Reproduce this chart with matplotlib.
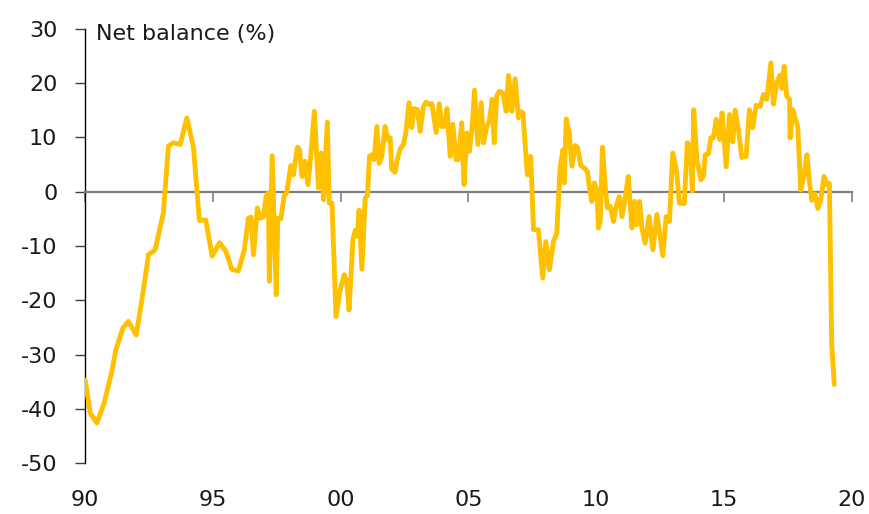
import matplotlib.pyplot as plt

# Net balance survey series, dates as decimal years
dates = [
    1990.00, 1990.20, 1990.46, 1990.74, 1991.04, 1991.21, 1991.48, 1991.69, 1992.00, 1992.22,
    1992.48, 1992.74, 1993.06, 1993.26, 1993.46, 1993.72, 1993.98, 1994.24, 1994.47, 1994.72,
    1994.97, 1995.26, 1995.51, 1995.74, 1996.00, 1996.23, 1996.39, 1996.49, 1996.59, 1996.74,
    1996.85, 1996.98, 1997.08, 1997.17, 1997.21, 1997.32, 1997.48, 1997.54, 1997.66, 1997.79,
    1997.89, 1998.05, 1998.15, 1998.31, 1998.39, 1998.49, 1998.60, 1998.72, 1998.83, 1998.97,
    1999.13, 1999.24, 1999.33, 1999.48, 1999.55, 1999.66, 1999.82, 1999.98, 2000.14, 2000.24,
    2000.33, 2000.48, 2000.57, 2000.66, 2000.72, 2000.83, 2000.96, 2001.05, 2001.13, 2001.22,
    2001.31, 2001.42, 2001.51, 2001.61, 2001.74, 2001.85, 2001.94, 2002.00, 2002.13, 2002.22,
    2002.33, 2002.46, 2002.55, 2002.68, 2002.78, 2002.88, 2003.01, 2003.11, 2003.24, 2003.35,
    2003.46, 2003.57, 2003.74, 2003.86, 2003.96, 2004.06, 2004.16, 2004.29, 2004.39, 2004.52,
    2004.61, 2004.74, 2004.83, 2004.94, 2005.04, 2005.15, 2005.24, 2005.37, 2005.50, 2005.59,
    2005.72, 2005.82, 2005.93, 2006.01, 2006.11, 2006.21, 2006.35, 2006.48, 2006.57, 2006.70,
    2006.83, 2006.96, 2007.03, 2007.13, 2007.31, 2007.44, 2007.55, 2007.74, 2007.91, 2008.03,
    2008.17, 2008.33, 2008.46, 2008.59, 2008.70, 2008.75, 2008.83, 2008.95, 2009.05, 2009.18,
    2009.27, 2009.40, 2009.53, 2009.66, 2009.73, 2009.83, 2009.93, 2010.03, 2010.09, 2010.16,
    2010.25, 2010.35, 2010.44, 2010.55, 2010.68, 2010.78, 2010.91, 2011.01, 2011.14, 2011.26,
    2011.40, 2011.50, 2011.59, 2011.70, 2011.79, 2011.92, 2012.07, 2012.22, 2012.38, 2012.61,
    2012.74, 2012.87, 2013.00, 2013.16, 2013.26, 2013.45, 2013.57, 2013.68, 2013.77, 2013.82,
    2013.94, 2014.10, 2014.20, 2014.27, 2014.40, 2014.49, 2014.59, 2014.70, 2014.83, 2014.93,
    2015.09, 2015.22, 2015.35, 2015.44, 2015.57, 2015.70, 2015.87, 2016.00, 2016.13, 2016.26,
    2016.42, 2016.55, 2016.68, 2016.84, 2016.94, 2017.07, 2017.20, 2017.27, 2017.36, 2017.46,
    2017.57, 2017.59, 2017.70, 2017.79, 2017.89, 2018.01, 2018.14, 2018.25, 2018.35, 2018.44,
    2018.57, 2018.68, 2018.79, 2018.92, 2019.03, 2019.13, 2019.22, 2019.32,
]
balance = [
    -34.7, -40.8, -42.6, -39.0, -33.2, -29.0, -25.1, -23.9, -26.4, -19.9,
    -11.6, -10.7, -3.9, 8.4, 9.0, 8.7, 13.6, 8.1, -5.3, -5.2,
    -11.9, -9.4, -11.0, -14.3, -14.6, -10.7, -4.9, -4.7, -11.6, -3.0,
    -4.9, -4.6, -0.9, -0.2, -16.5, 6.6, -19.0, -4.9, -5.0, -0.7,
    -0.2, 4.8, 3.1, 8.2, 7.7, 2.8, 5.6, 1.3, 6.5, 14.8,
    0.7, 7.1, -1.5, 12.8, -2.1, -2.1, -23.0, -18.1, -15.3, -16.5,
    -21.8, -8.9, -7.1, -8.2, -3.4, -14.3, -1.2, -0.7, 6.5, 6.8,
    5.9, 12.0, 5.2, 6.5, 12.0, 9.6, 9.9, 4.1, 3.6, 5.9,
    7.9, 8.7, 10.8, 16.4, 11.8, 15.3, 15.1, 11.1, 15.7, 16.5,
    16.1, 16.2, 10.9, 16.2, 12.0, 12.0, 15.3, 6.5, 12.4, 5.9,
    5.9, 12.7, 1.3, 10.8, 7.4, 12.0, 18.7, 8.7, 16.4, 9.0,
    12.0, 13.0, 17.0, 9.0, 17.6, 18.5, 18.2, 14.8, 21.4, 14.8,
    20.8, 13.6, 14.8, 14.5, 3.1, 6.5, -7.0, -7.0, -15.9, -9.2,
    -14.4, -9.2, -7.6, 4.4, 7.7, 1.6, 13.4, 10.8, 4.7, 8.5,
    8.2, 4.8, 4.4, 3.7, 1.0, -1.8, 1.6, 0.1, -6.7, -5.2,
    8.2, 1.3, -3.0, -2.7, -5.5, -2.7, -0.9, -4.6, -0.9, 2.8,
    -6.7, -1.8, -6.1, -1.8, -6.7, -9.5, -4.6, -10.7, -4.2, -11.8,
    -4.6, -5.5, 7.1, 3.4, -2.1, -2.2, 9.0, 8.4, 0.1, 15.1,
    6.0, 2.2, 2.8, 6.8, 7.0, 9.9, 9.9, 13.3, 9.6, 14.5,
    4.6, 14.2, 9.2, 15.0, 11.4, 6.3, 6.5, 15.1, 11.8, 15.9,
    15.7, 17.9, 17.0, 23.7, 16.1, 20.1, 21.5, 19.0, 23.1, 17.6,
    17.0, 9.9, 15.1, 13.5, 12.0, 0.3, 3.0, 6.8, 1.9, -1.6,
    -0.4, -3.1, -1.5, 2.8, 1.3, 1.5, -28.0, -35.5,
]

year_ticks = [1990, 1995, 2000, 2005, 2010, 2015, 2020]
year_labels = ["90", "95", "00", "05", "10", "15", "20"]
value_ticks = [-50, -40, -30, -20, -10, 0, 10, 20, 30]

plt.rcParams["font.family"] = "DejaVu Sans"
plt.rcParams["axes.unicode_minus"] = False

fig = plt.figure(figsize=(8.69, 5.14), dpi=100)
ax = fig.add_axes([0.098, 0.099, 0.882, 0.845])

ax.plot(dates, balance, color="#FFC000", linewidth=3.5, solid_joinstyle="round",
        solid_capstyle="round", zorder=5)

ax.set_xlim(1990, 2020)
ax.set_ylim(-50, 30)

# zero line acts as the x axis, labels sit below the plot
ax.spines["top"].set_visible(False)
ax.spines["right"].set_visible(False)
ax.spines["bottom"].set_position(("data", 0))
ax.spines["bottom"].set_color("#7f7f7f")
ax.spines["bottom"].set_linewidth(1.6)
ax.spines["left"].set_color("black")
ax.spines["left"].set_linewidth(1.0)

ax.set_xticks(year_ticks)
ax.tick_params(axis="x", direction="out", length=7, width=1.2, color="#7f7f7f",
               labelbottom=False)
ax.set_yticks(value_ticks)
ax.tick_params(axis="y", direction="out", length=7, width=1.0, color="#404040",
               pad=13, labelsize=16, labelcolor="#1a1a1a")

labels_axis = ax.secondary_xaxis("bottom")
labels_axis.set_xticks(year_ticks, year_labels)
labels_axis.tick_params(length=0, pad=19, labelsize=16, labelcolor="#1a1a1a")
labels_axis.spines["bottom"].set_visible(False)

ax.text(0.014, 1.012, "Net balance (%)", transform=ax.transAxes, fontsize=16,
        ha="left", va="top", color="#1a1a1a")

fig.savefig("out.png", dpi=100)
